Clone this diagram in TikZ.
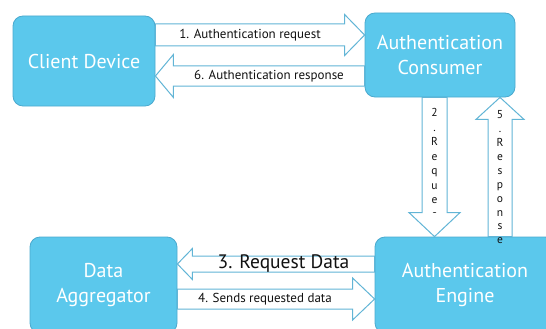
\documentclass[tikz,border=0pt]{standalone}
\usepackage{fontspec}
\setmainfont{PT Sans}
\usetikzlibrary{calc}
\definecolor{boxBlue}{HTML}{5BC8EC}
\definecolor{boxLine}{HTML}{4AA9CE}
\definecolor{arrowLine}{HTML}{62B5D6}
\definecolor{labelInk}{HTML}{111111}
\tikzset{
    party/.style={draw=boxLine,fill=boxBlue,rounded corners=10pt,line width=0.8pt,
        align=center,text=white,font=\fontsize{20}{25}\selectfont},
    blockarrow/.style={draw=arrowLine,fill=white,line width=1pt},
    steplabel/.style={text=labelInk,font=\fontsize{13}{15}\selectfont,inner sep=0pt},
    biglabel/.style={text=labelInk,font=\fontsize{19.5}{22}\selectfont,inner sep=0pt},
    stacklabel/.style={text=labelInk,align=center,inner sep=0pt,anchor=north}
}
% hollow arrow: from, tip, shaft half width, head half width, head length
\newcommand\blockarrow[5]{%
    \coordinate (bah) at ($(#2)!#5!(#1)$);
    \draw[blockarrow] ($(#1)!#3!90:(#2)$) -- ($(bah)!#3!90:(#2)$) -- ($(bah)!#4!90:(#2)$) -- (#2)
        -- ($(bah)!#4!-90:(#2)$) -- ($(bah)!#3!-90:(#2)$) -- ($(#1)!#3!-90:(#2)$) -- cycle;
}

\begin{document}
\begin{tikzpicture}[x=1pt,y=-1pt]
    \useasboundingbox (0,0) rectangle (546,329);
    % the four parties
    \node[party,minimum width=142pt,minimum height=90pt] (client) at (84,61) {Client Device};
    \node[party,minimum width=150pt,minimum height=84pt] (consumer) at (440,55) {Authentication\\Consumer};
    \node[party,minimum width=147pt,minimum height=96pt] (aggregator) at (103.5,285) {Data\\Aggregator};
    \node[party,minimum width=180pt,minimum height=96pt] (engine) at (465,285) {Authentication\\Engine};

    % 1 and 6, client <-> consumer
    \coordinate (authReqA) at (client.east |- 0,35);
    \coordinate (authReqB) at (consumer.west |- 0,35);
    \blockarrow{authReqA}{authReqB}{11pt}{20.5pt}{20pt}
    \node[steplabel] (authReqText) at ($(authReqA)!0.5!(bah)$) {1. Authentication request};

    \coordinate (authRespA) at (consumer.west |- 0,76);
    \coordinate (authRespB) at (client.east |- 0,76);
    \blockarrow{authRespA}{authRespB}{10pt}{21.5pt}{18pt}
    \node[steplabel] (authRespText) at ($(authRespA)!0.5!(bah)$) {6. Authentication response};

    % 2 and 5, consumer <-> engine
    \coordinate (reqA) at (consumer.south -| 434.5,0);
    \coordinate (reqB) at (engine.north -| 434.5,0);
    \blockarrow{reqA}{reqB}{12.5pt}{25.5pt}{24pt}
    \begin{scope}
        \clip (422,97) rectangle (447,212);
        \node[stacklabel,font=\fontsize{11.5}{14.5}\selectfont] (reqText) at (434.5,108.5)
            {2\\.\\R\\e\\q\\u\\e\\s\\t};
    \end{scope}

    \coordinate (respA) at (engine.north -| 500,0);
    \coordinate (respB) at (consumer.south -| 500,0);
    \blockarrow{respA}{respB}{12pt}{24pt}{22pt}
    \node[stacklabel,font=\fontsize{11.5}{13.9}\selectfont] (respText) at (500,110.5)
        {5\\.\\R\\e\\s\\p\\o\\n\\s\\e};

    % 3 and 4, engine <-> aggregator
    \coordinate (dataReqA) at (engine.west |- 0,264);
    \coordinate (dataReqB) at (aggregator.east |- 0,264);
    \blockarrow{dataReqA}{dataReqB}{8pt}{15.5pt}{15pt}
    \node[biglabel] (dataReqText) at ($(dataReqA)!0.5!(bah)$) {3. Request Data};

    \coordinate (dataSendA) at (aggregator.east |- 0,299);
    \coordinate (dataSendB) at (engine.west |- 0,299);
    \blockarrow{dataSendA}{dataSendB}{10pt}{21pt}{22pt}
    \node[steplabel] (dataSendText) at ($(dataSendA)!0.5!(bah)$) {4. Sends requested data};
\end{tikzpicture}
\end{document}
